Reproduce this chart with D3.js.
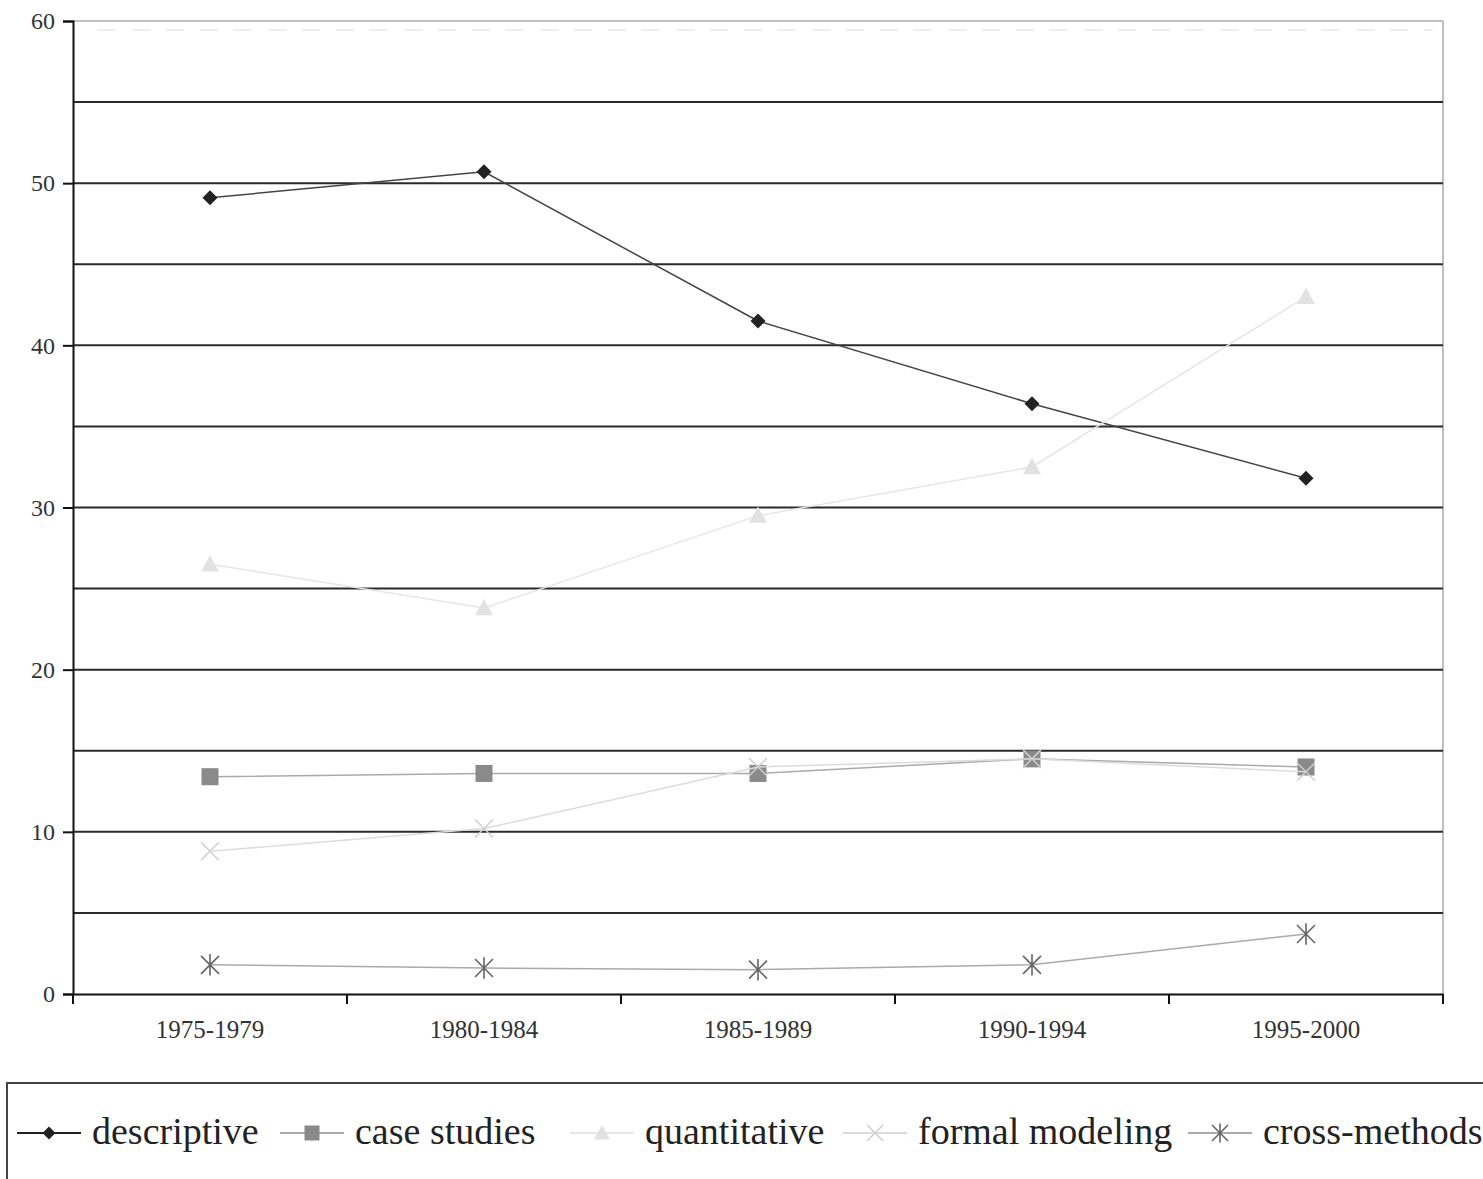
<!DOCTYPE html>
<html><head><meta charset="utf-8">
<script src="https://cdn.jsdelivr.net/npm/d3@7"></script>
<style>body{margin:0;background:#fff;} svg{display:block;}</style>
</head><body>
<svg id="c" width="1483" height="1179"></svg>
<script>
const categories = ["1975-1979","1980-1984","1985-1989","1990-1994","1995-2000"];
const descriptive = [49.1, 50.7, 41.5, 36.4, 31.8];
const caseStudies = [13.4, 13.6, 13.6, 14.5, 14.0];
const quantitative = [26.5, 23.8, 29.5, 32.5, 43.0];
const formalModeling = [8.8, 10.2, 14.0, 14.5, 13.7];
const crossMethods = [1.8, 1.6, 1.5, 1.8, 3.7];
const seriesNames = ["descriptive","case studies","quantitative","formal modeling","cross-methods"];
const yTicks = [0,10,20,30,40,50,60];
const gridValues = [5,10,15,20,25,30,35,40,45,50,55];

const series = [
  {name: seriesNames[0], values: descriptive, line: "#444", marker: "#222", shape: "diamond"},
  {name: seriesNames[1], values: caseStudies, line: "#aaa", marker: "#8a8a8a", shape: "square"},
  {name: seriesNames[2], values: quantitative, line: "#e6e6e6", marker: "#e2e2e2", shape: "triangle"},
  {name: seriesNames[3], values: formalModeling, line: "#dcdcdc", marker: "#cfcfcf", shape: "x"},
  {name: seriesNames[4], values: crossMethods, line: "#aaa", marker: "#666", shape: "star"}
];

const svg = d3.select("#c");
const L = 73, R = 1443, T = 21, B = 994;
const x = d3.scaleBand().domain(categories).range([L, R]);
const y = d3.scaleLinear().domain([0, 60]).range([B, T]);
const font = "'Liberation Serif', 'DejaVu Serif', serif";

// faint dashed line near top
svg.append("line").attr("x1", L+25).attr("x2", R-10).attr("y1", y(60)+9).attr("y2", y(60)+9)
  .attr("stroke", "#eee").attr("stroke-width", 2).attr("stroke-dasharray", "18,16");

// plot border top and right
svg.append("line").attr("x1", L).attr("x2", R).attr("y1", y(60)).attr("y2", y(60)).attr("stroke", "#aaa").attr("stroke-width", 1.5);
svg.append("line").attr("x1", R).attr("x2", R).attr("y1", y(60)).attr("y2", y(0)).attr("stroke", "#aaa").attr("stroke-width", 1.5);

// gridlines
svg.append("g").selectAll("line").data(gridValues).join("line")
  .attr("x1", L).attr("x2", R).attr("y1", d => y(d)).attr("y2", d => y(d))
  .attr("stroke", "#2a2a2a").attr("stroke-width", 2);

// y axis
const yAxis = svg.append("g").attr("transform", `translate(${L},0)`)
  .call(d3.axisLeft(y).tickValues(yTicks).tickSize(10).tickPadding(8));
yAxis.select(".domain").attr("stroke", "#111").attr("stroke-width", 2);
yAxis.selectAll(".tick line").attr("stroke", "#111").attr("stroke-width", 2);
yAxis.selectAll("text").attr("font-family", font).attr("font-size", 24).attr("fill", "#333");

// x axis
const xAxis = svg.append("g").attr("transform", `translate(0,${B})`)
  .call(d3.axisBottom(x).tickSize(0).tickPadding(26));
xAxis.select(".domain").attr("stroke", "#111").attr("stroke-width", 2);
xAxis.selectAll("text").attr("font-family", font).attr("font-size", 25).attr("fill", "#333");
const bounds = categories.map(c => x(c)).concat([R]);
xAxis.append("g").selectAll("line").data(bounds).join("line")
  .attr("x1", d => d).attr("x2", d => d).attr("y1", 0).attr("y2", 10)
  .attr("stroke", "#111").attr("stroke-width", 2);

function drawMarker(g, shape, color, cx, cy, s) {
  if (shape === "diamond") {
    g.append("path").attr("d", `M${cx},${cy-s}L${cx+s},${cy}L${cx},${cy+s}L${cx-s},${cy}Z`).attr("fill", color);
  } else if (shape === "square") {
    g.append("rect").attr("x", cx-s).attr("y", cy-s).attr("width", 2*s).attr("height", 2*s).attr("fill", color);
  } else if (shape === "triangle") {
    g.append("path").attr("d", `M${cx},${cy-s}L${cx+s},${cy+s*0.8}L${cx-s},${cy+s*0.8}Z`).attr("fill", color);
  } else if (shape === "x") {
    g.append("path").attr("d", `M${cx-s},${cy-s}L${cx+s},${cy+s}M${cx-s},${cy+s}L${cx+s},${cy-s}`).attr("stroke", color).attr("stroke-width", 1.5).attr("fill", "none");
  } else if (shape === "star") {
    g.append("path").attr("d", `M${cx-s},${cy-s}L${cx+s},${cy+s}M${cx-s},${cy+s}L${cx+s},${cy-s}M${cx},${cy-s*1.2}L${cx},${cy+s*1.2}`).attr("stroke", color).attr("stroke-width", 1.6).attr("fill", "none");
  }
}
const sizes = {diamond: 7.5, square: 8.5, triangle: 9, x: 9, star: 9};

const line = d3.line().x((d, i) => x(categories[i]) + x.bandwidth()/2).y(d => y(d));
series.forEach(s => {
  const g = svg.append("g");
  g.append("path").datum(s.values).attr("d", line).attr("fill", "none").attr("stroke", s.line).attr("stroke-width", 1.5);
  s.values.forEach((v, i) => drawMarker(g, s.shape, s.marker, x(categories[i]) + x.bandwidth()/2, y(v), sizes[s.shape]));
});

// legend
const lg = svg.append("g");
lg.append("rect").attr("x", 7).attr("y", 1083).attr("width", 1500).attr("height", 120)
  .attr("fill", "none").attr("stroke", "#444").attr("stroke-width", 2);
const legendX = [17, 280, 570, 843, 1188];
series.forEach((s, i) => {
  const x0 = legendX[i], yy = 1133;
  lg.append("line").attr("x1", x0).attr("x2", x0 + 64).attr("y1", yy).attr("y2", yy).attr("stroke", i === 0 ? "#222" : s.line).attr("stroke-width", 2);
  drawMarker(lg, s.shape, s.marker, x0 + 32, yy, sizes[s.shape] - 1);
  lg.append("text").attr("x", x0 + 75).attr("y", yy + 11).attr("font-family", font).attr("font-size", 38).attr("fill", "#222").text(s.name);
});
</script>
</body></html>
